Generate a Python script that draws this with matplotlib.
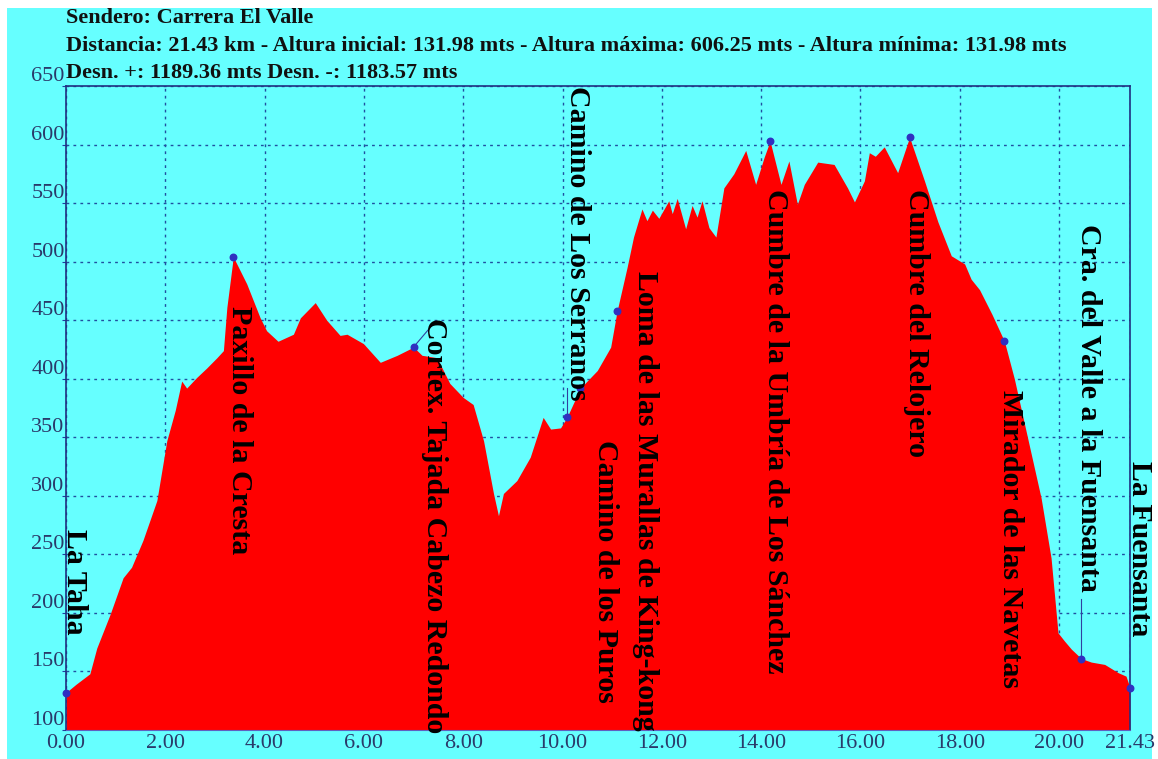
import matplotlib
matplotlib.use("Agg")
import matplotlib.pyplot as plt
from matplotlib.patches import Rectangle

# perfil del sendero (km, altura en m)
dist_km = [0.00, 0.20, 0.48, 0.62, 0.89, 1.15, 1.32, 1.55, 1.83, 2.03,
           2.20, 2.33, 2.43, 2.63, 2.83, 3.04, 3.17, 3.24, 3.37, 3.64,
           3.91, 4.04, 4.27, 4.58, 4.72, 5.02, 5.25, 5.52, 5.66, 5.99,
           6.33, 6.67, 7.00, 7.17, 7.47, 7.73, 8.00, 8.20, 8.41, 8.61,
           8.71, 8.81, 9.08, 9.35, 9.61, 9.76, 9.96, 10.09, 10.36, 10.70,
           10.97, 11.10, 11.30, 11.43, 11.60, 11.70, 11.81, 11.94, 12.14, 12.21,
           12.31, 12.48, 12.61, 12.71, 12.81, 12.95, 13.09, 13.25, 13.45, 13.69,
           13.89, 14.06, 14.18, 14.40, 14.56, 14.73, 14.87, 15.14, 15.47, 15.74,
           15.88, 16.08, 16.18, 16.30, 16.48, 16.75, 16.99, 17.29, 17.56, 17.83,
           18.10, 18.23, 18.40, 18.65, 18.90, 19.10, 19.37, 19.64, 19.84, 19.98,
           20.11, 20.25, 20.45, 20.65, 20.92, 21.19, 21.35, 21.43]
altura = [131.98, 139, 148, 170, 199, 230, 239, 262, 296, 347,
          373, 398, 392, 401, 409, 418, 424, 461, 504, 481,
          452, 441, 432, 438, 452, 465, 450, 437, 438, 430,
          414, 420, 427, 420, 418, 396, 384, 378, 347, 302,
          283, 302, 313, 333, 367, 357, 358, 367, 392, 407,
          427, 458, 495, 521, 545, 535, 544, 537, 552, 541,
          554, 528, 548, 538, 552, 529, 521, 563, 575, 595,
          566, 589, 603, 566, 586, 549, 566, 585, 583, 563,
          551, 569, 593, 590, 598, 576, 606.25, 569, 534, 505,
          498, 485, 476, 455, 432, 400, 349, 298, 247, 183,
          176, 169, 161, 158, 156, 149, 146, 136]

# puntos de paso
wp_names = ["La Taha", "Paxillo de la Cresta", "Cortex. Tajada Cabezo Redondo",
            "Camino de Los Serranos", "Camino de los Puros",
            "Loma de las Murallas de King-kong", "Cumbre de la Umbría de Los Sánchez",
            "Cumbre del Relojero", "Mirador de las Navetas",
            "Cra. del Valle a la Fuensanta", "La Fuensanta"]
wp_km = [0.00, 3.37, 7.00, 10.09, 10.36, 11.10, 14.18, 16.99, 18.90, 20.45, 21.43]
wp_alt = [131.98, 504, 427, 367, 392, 458, 603, 606.25, 432, 161, 136]

x_ticks = [0, 2, 4, 6, 8, 10, 12, 14, 16, 18, 20, 21.43]
x_labels = ["0.00", "2.00", "4.00", "6.00", "8.00", "10.00", "12.00",
            "14.00", "16.00", "18.00", "20.00", "21.43"]
y_ticks = [100, 150, 200, 250, 300, 350, 400, 450, 500, 550, 600, 650]

titulo = ["Sendero: Carrera El Valle",
          "Distancia: 21.43 km - Altura inicial: 131.98 mts - Altura máxima: 606.25 mts - Altura mínima: 131.98 mts",
          "Desn. +: 1189.36 mts Desn. -: 1183.57 mts"]

# colocacion de las etiquetas (km, altura del extremo superior)
lab_x = [0.18, 3.50, 7.42, 10.30, 10.87, 11.67, 14.29, 17.12, 19.02, 20.60, 21.62]
lab_top = [272, 462, 452, 650, 348, 492, 562, 562, 390, 532, 330]

cyan = "#66ffff"
serif = "Liberation Serif"

fig = plt.figure(figsize=(11.58, 7.59), dpi=100, facecolor="white")
fig.patches.append(Rectangle((7 / 1158, 0), 1145 / 1158, 751 / 759,
                             transform=fig.transFigure, facecolor=cyan,
                             edgecolor="none", zorder=-10))

ax = fig.add_axes([66 / 1158, 29 / 759, 1064 / 1158, 644 / 759])
ax.set_facecolor(cyan)
ax.fill_between(dist_km, 100, altura, color="#ff0000", linewidth=0, zorder=1)

ax.set_xlim(0, 21.43)
ax.set_ylim(100, 650)
ax.set_xticks(x_ticks)
ax.set_xticklabels(x_labels)
ax.set_yticks(y_ticks)
ax.set_axisbelow(True)
ax.grid(True, color="#2050a0", linestyle=(0, (2, 3)), linewidth=1)

for lab in ax.get_xticklabels() + ax.get_yticklabels():
    lab.set_fontfamily(serif)
    lab.set_fontsize(16)
    lab.set_color("#2a3a6a")
for lab in ax.get_yticklabels():
    lab.set_verticalalignment("bottom")
ax.tick_params(axis="x", length=0, pad=3)
ax.tick_params(axis="y", length=3, color="#2040a0", pad=-2)

for side in ["left", "top", "right"]:
    ax.spines[side].set_color("#203080")
    ax.spines[side].set_linewidth(1.2)
ax.spines["bottom"].set_color("#6060c0")

# lineas de union etiqueta - punto
ax.plot([wp_km[2], 7.42], [wp_alt[2], 448], color="#3040a0", lw=0.8, zorder=3)
ax.plot([wp_km[3], wp_km[3]], [wp_alt[3], 392], color="#3040a0", lw=0.8, zorder=3)
ax.plot([wp_km[9], wp_km[9]], [wp_alt[9], 212], color="#3040a0", lw=0.8, zorder=3)

ax.scatter(wp_km, wp_alt, s=22, color="#3030c0", zorder=4, clip_on=False)

for name, x, top in zip(wp_names, lab_x, lab_top):
    ax.text(x, top, name, rotation=-90, ha="center", va="top",
            fontfamily=serif, fontweight="bold", fontsize=21.5,
            color="black", zorder=5, clip_on=False)

for i, line in enumerate(titulo):
    fig.text(66 / 1158, 1 - [18, 46, 73][i] / 759, line, ha="left", va="center",
             fontfamily=serif, fontweight="bold", fontsize=16, color="#111111")

fig.savefig("out.png", dpi=100, facecolor=fig.get_facecolor())
